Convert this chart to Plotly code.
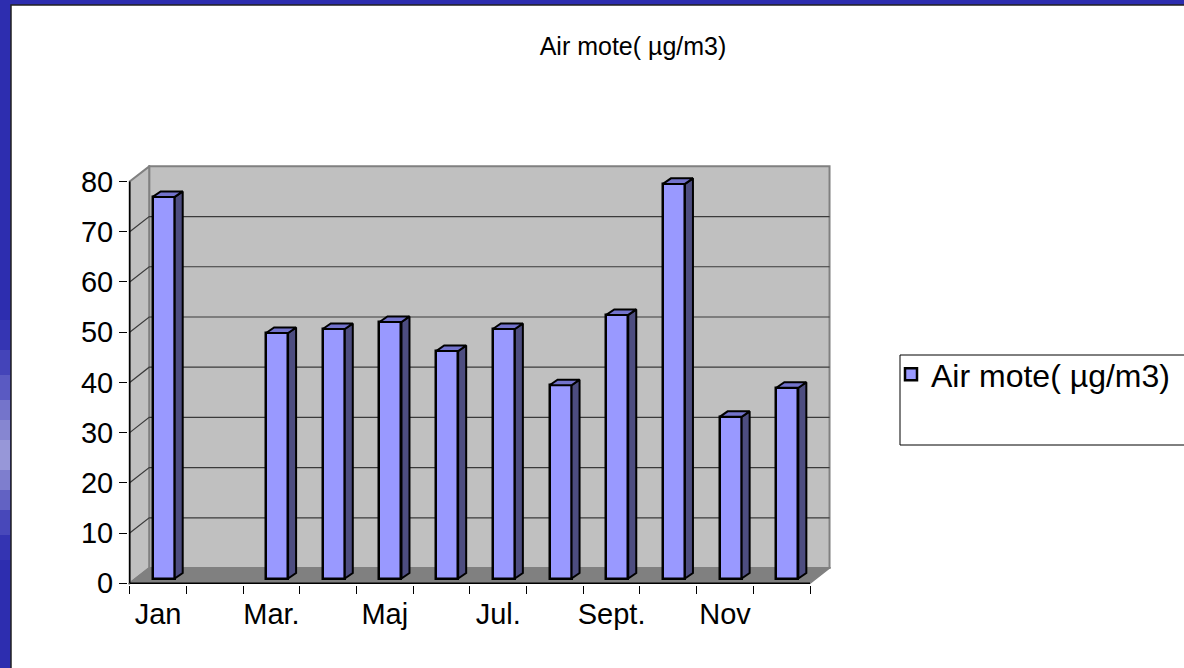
import plotly.graph_objects as go

# ---------------- data ----------------
months = ["Jan", "Feb", "Mar.", "Apr", "Maj", "Jun", "Jul.", "Aug", "Sept.", "Okt", "Nov", "Dec"]
values = [76.0, None, 48.9, 49.7, 51.1, 45.3, 49.7, 38.5, 52.5, 78.6, 32.2, 38.0]
y_ticks = [0, 10, 20, 30, 40, 50, 60, 70, 80]
shown_labels = months[::2]
series_name = "Air mote( µg/m3)"
title_text = "Air mote( µg/m3)"

# ---------------- layout constants ----------------
W, H = 1184, 668
ML, MR, MT, MB = 128, 353, 165, 83
X_RANGE = [-0.53, 11.87]
Y_RANGE = [-0.35, 83.3]

WALL_DX, WALL_DY = 0.344, 3.03      # depth of the 3-D box (x in categories, y in value units)
BAR_W, BAR_FX, BAR_FY = 0.388, 0.10, 0.94
BAR_DX, BAR_DY = 0.141, 1.1

FRONT = "#9999FF"
SIDE = "#4D4D80"
TOP = "#7373CC"
WALL = "#C0C0C0"
FLOOR = "#808080"
EDGE = "#808080"
BLUE = "#2D2DAF"
FONT = "Liberation Sans, Arial, sans-serif"

n = len(months)
x_lo, x_hi = -0.5, n - 0.5
y_top = y_ticks[-1]


def pxx(px):
    return (px - ML) / (W - ML - MR)


def pxy(py):
    return (H - MB - py) / (H - MT - MB)


fig = go.Figure()

# front faces of the bars
fig.add_trace(go.Bar(
    x=list(range(n)), y=values, base=BAR_FY, width=BAR_W, offset=BAR_FX - BAR_W / 2,
    marker=dict(color=FRONT, line=dict(color="black", width=2.5)),
    name=series_name, showlegend=True, hoverinfo="skip",
))

# side and top faces
for i, v in enumerate(values):
    if v is None:
        continue
    xr = i + BAR_FX + BAR_W / 2
    xl = xr - BAR_W
    y0 = BAR_FY
    y1 = BAR_FY + v
    fig.add_trace(go.Scatter(
        x=[xr, xr, xr + BAR_DX, xr + BAR_DX, xr],
        y=[y0, y1, y1 + BAR_DY, y0 + BAR_DY, y0],
        mode="lines", fill="toself", fillcolor=SIDE,
        line=dict(color="black", width=2), showlegend=False, hoverinfo="skip",
    ))
    fig.add_trace(go.Scatter(
        x=[xl, xr, xr + BAR_DX, xl + BAR_DX, xl],
        y=[y1, y1, y1 + BAR_DY, y1 + BAR_DY, y1],
        mode="lines", fill="toself", fillcolor=TOP,
        line=dict(color="black", width=2), showlegend=False, hoverinfo="skip",
    ))

shapes = []
# white page on blue frame
shapes.append(dict(type="rect", xref="paper", yref="paper", layer="below",
                   x0=pxx(11), x1=pxx(1250), y0=pxy(720), y1=pxy(5),
                   fillcolor="white", line=dict(color="#222222", width=1.5)))
# left strip gradient bands
bands = [
    (320, 350, "#3535B3"), (350, 375, "#4444B9"), (375, 400, "#5A5AC2"),
    (400, 420, "#7474CB"), (420, 440, "#8686D1"), (440, 470, "#9797D8"),
    (470, 490, "#7E7ECE"), (490, 510, "#6262C3"), (510, 535, "#4848BA"),
    (535, 560, "#3434B2"),
]
for a, b, c in bands:
    shapes.append(dict(type="rect", xref="paper", yref="paper", layer="below",
                       x0=pxx(0), x1=pxx(10), y0=pxy(b), y1=pxy(a),
                       fillcolor=c, line=dict(width=0)))

# walls and floor
shapes.append(dict(type="rect", xref="x", yref="y", layer="below",
                   x0=x_lo + WALL_DX, x1=x_hi + WALL_DX, y0=WALL_DY, y1=y_top + WALL_DY,
                   fillcolor=WALL, line=dict(color=EDGE, width=2)))
shapes.append(dict(type="path", xref="x", yref="y", layer="below",
                   path=f"M{x_lo},0 L{x_lo},{y_top} L{x_lo + WALL_DX},{y_top + WALL_DY} "
                        f"L{x_lo + WALL_DX},{WALL_DY} Z",
                   fillcolor=WALL, line=dict(color=EDGE, width=2)))
shapes.append(dict(type="path", xref="x", yref="y", layer="below",
                   path=f"M{x_lo},0 L{x_hi},0 L{x_hi + WALL_DX},{WALL_DY} L{x_lo + WALL_DX},{WALL_DY} Z",
                   fillcolor=FLOOR, line=dict(color=EDGE, width=1.5)))
# gridlines on side and back wall
for v in y_ticks[1:-1]:
    shapes.append(dict(type="path", xref="x", yref="y", layer="below",
                       path=f"M{x_lo},{v} L{x_lo + WALL_DX},{v + WALL_DY} L{x_hi + WALL_DX},{v + WALL_DY}",
                       line=dict(color="#3A3A3A", width=1.2)))
# front axis lines
shapes.append(dict(type="line", xref="x", yref="y", layer="below",
                   x0=x_lo, x1=x_lo, y0=0, y1=y_top, line=dict(color="black", width=1.5)))
shapes.append(dict(type="line", xref="x", yref="y", layer="below",
                   x0=x_lo, x1=x_hi, y0=0, y1=0, line=dict(color="black", width=1.5)))
# legend box
shapes.append(dict(type="rect", xref="paper", yref="paper", layer="below",
                   x0=pxx(900), x1=pxx(1200), y0=pxy(445), y1=pxy(355),
                   fillcolor="white", line=dict(color="black", width=1)))

fig.update_layout(
    width=W, height=H,
    margin=dict(l=ML, r=MR, t=MT, b=MB, autoexpand=False),
    paper_bgcolor=BLUE, plot_bgcolor="rgba(0,0,0,0)",
    font=dict(family=FONT, color="black"),
    title=dict(text=title_text, x=633 / W, xref="container", xanchor="center",
               y=1 - 46 / H, yref="container", yanchor="middle",
               font=dict(size=25, color="black", family=FONT)),
    shapes=shapes,
    showlegend=True,
    legend=dict(x=pxx(891), y=pxy(347), xanchor="left", yanchor="top",
                bgcolor="rgba(0,0,0,0)", borderwidth=0,
                font=dict(size=32, color="black", family=FONT)),
    xaxis=dict(range=X_RANGE, showgrid=False, zeroline=False, showline=False,
               tickmode="array", tickvals=list(range(0, n, 2)), ticktext=shown_labels,
               ticks="", ticklabelstandoff=9,
               tickfont=dict(size=29, color="black", family=FONT),
               minor=dict(tickmode="array", tickvals=[i - 0.5 for i in range(n + 1)],
                          ticks="outside", ticklen=8, tickcolor="black", tickwidth=1,
                          showgrid=False)),
    yaxis=dict(range=Y_RANGE, showgrid=False, zeroline=False, showline=False,
               tickmode="array", tickvals=y_ticks, ticks="outside", ticklen=8,
               tickcolor="black", tickwidth=1,
               tickfont=dict(size=29, color="black", family=FONT)),
    bargap=0,
)

fig.write_html("out.html", config={"displayModeBar": False},
               post_script="document.body.style.margin='0';document.body.style.overflow='hidden';")
